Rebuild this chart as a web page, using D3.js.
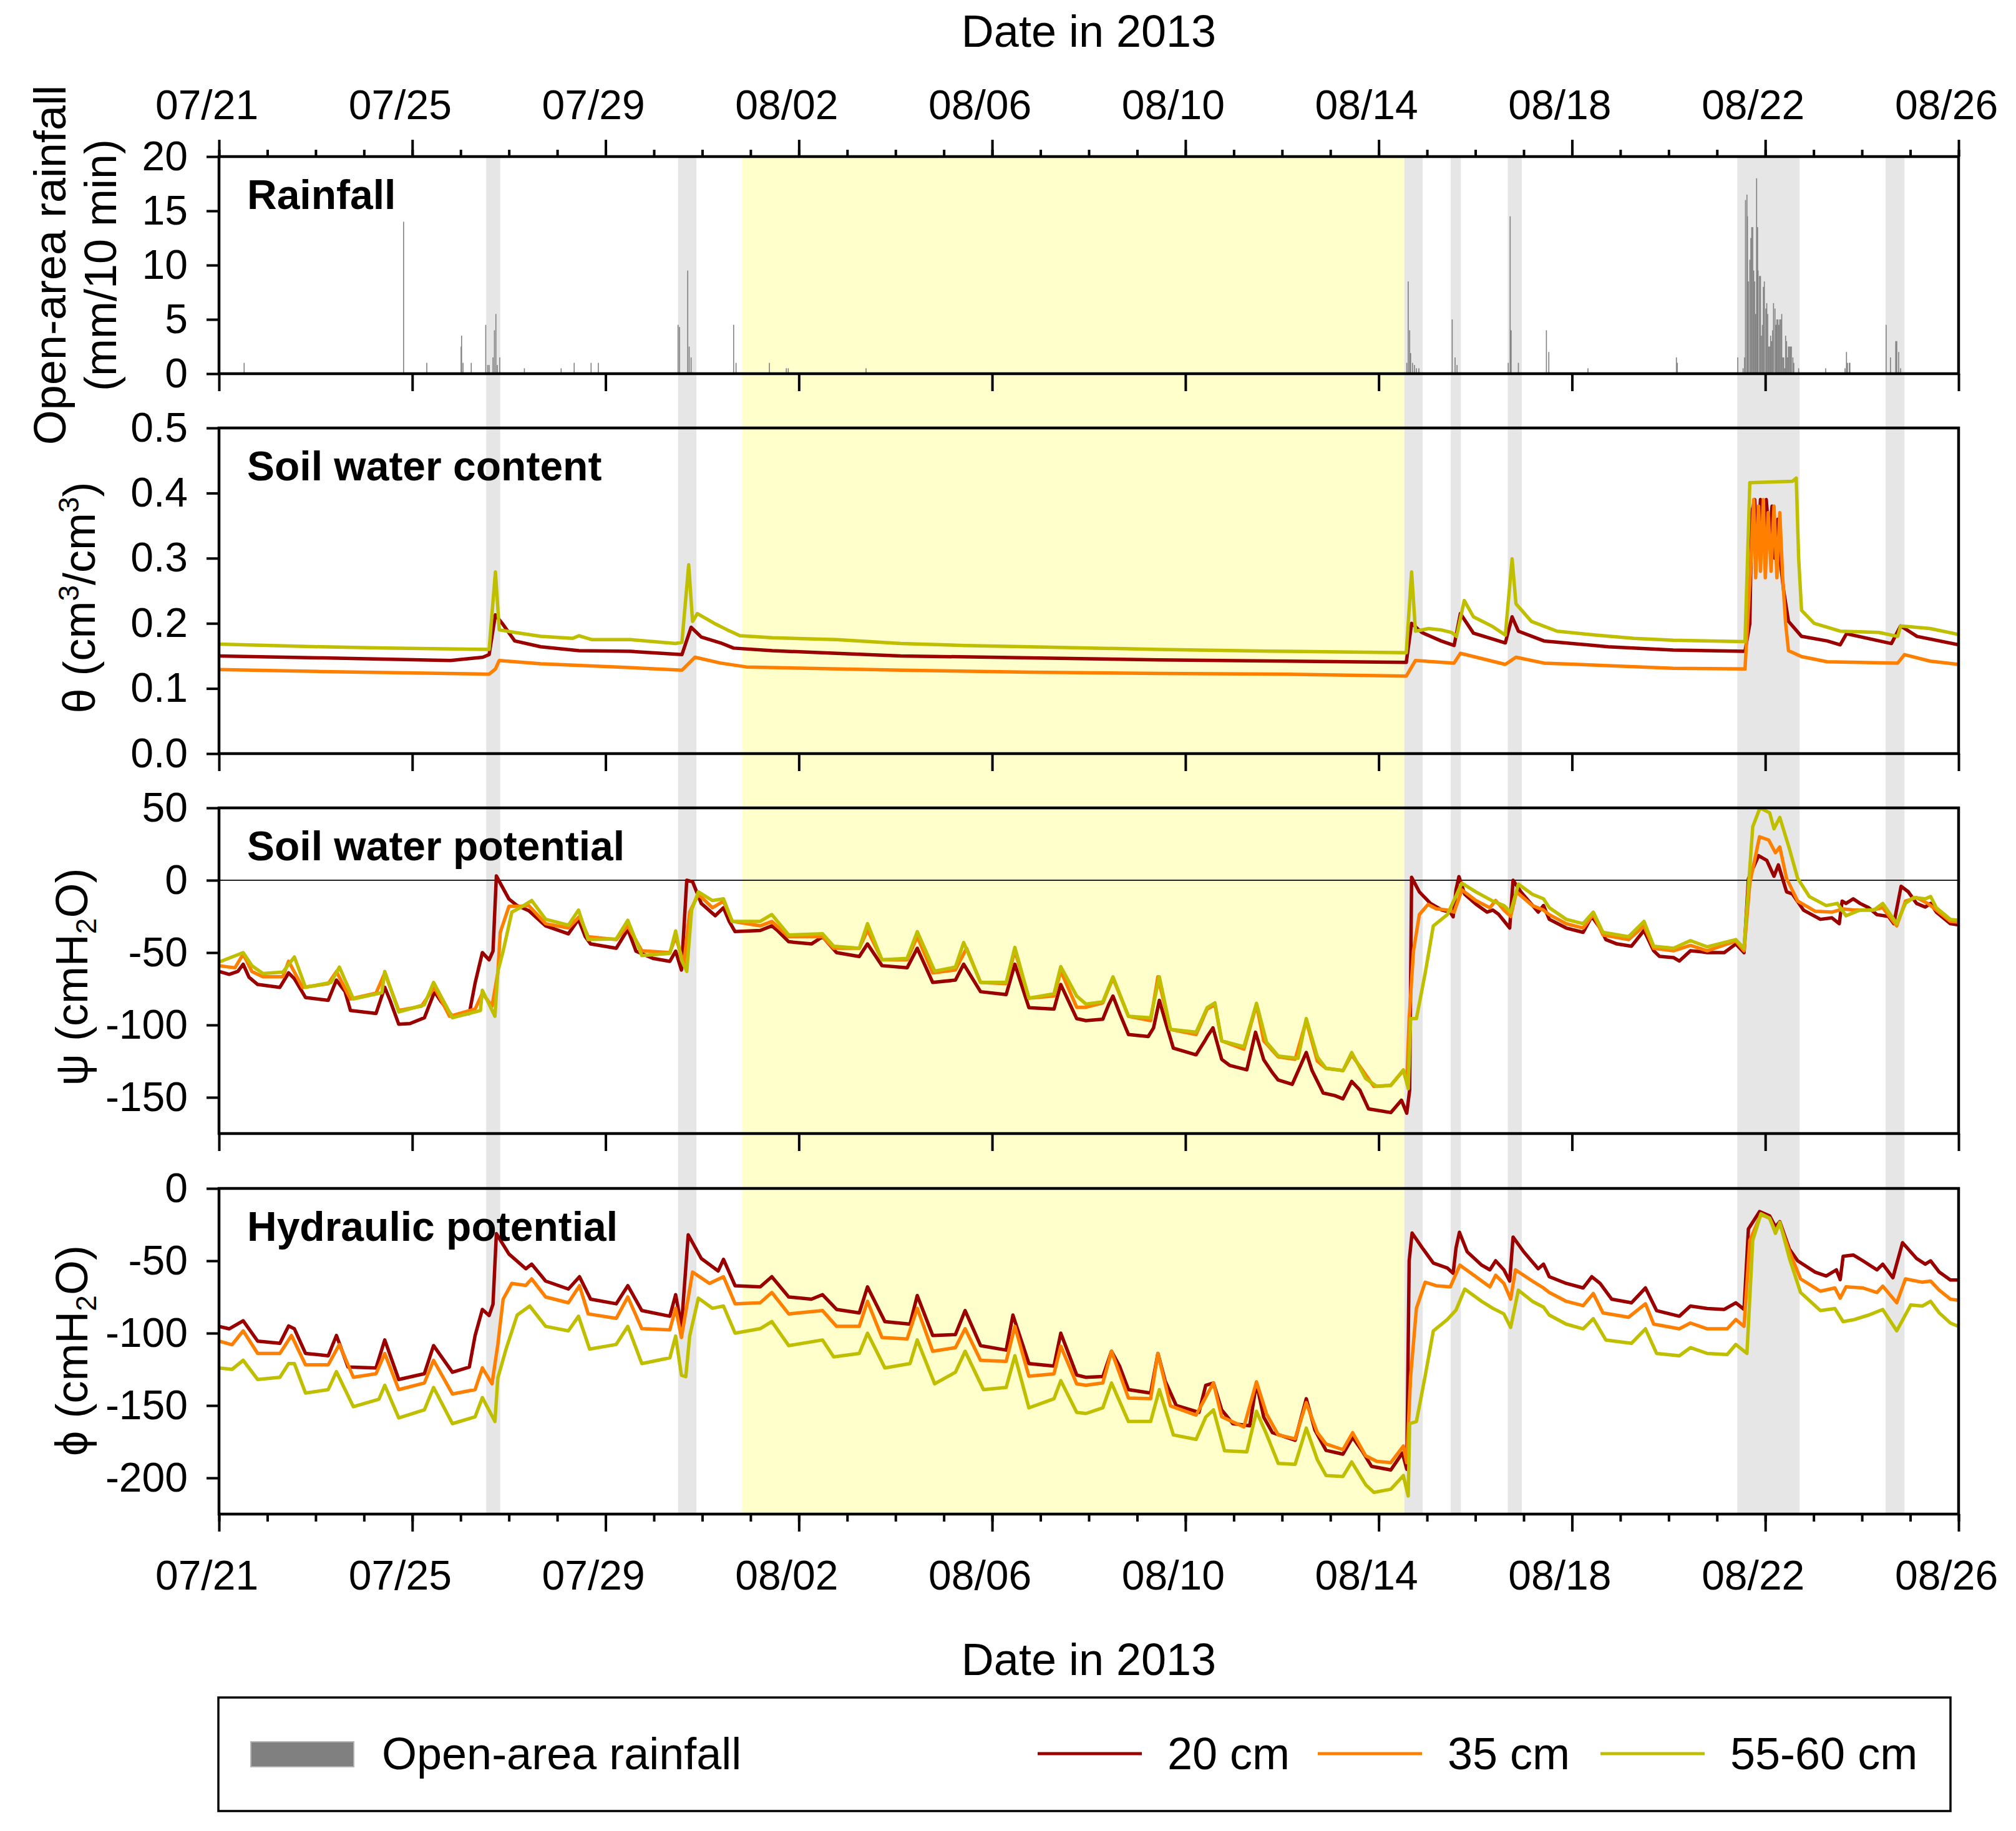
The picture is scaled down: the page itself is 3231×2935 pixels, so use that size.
<!DOCTYPE html>
<html>
<head>
<meta charset="utf-8">
<script src="https://cdn.jsdelivr.net/npm/d3@7"></script>
<style>
body { margin: 0; background: #fff; }
text { font-family: "Liberation Sans", Arial, sans-serif; }
</style>
</head>
<body>
<div id="chart"></div>
<script>
// all times are days since 2013-07-21 00:00

// open-area rainfall (mm/10 min)
var rainTime = [0.52, 3.82, 4.30, 5.01, 5.02, 5.05, 5.22, 5.52, 5.56, 5.59, 5.67, 5.70, 5.73, 5.76, 5.81,
  6.32, 7.08, 7.35, 7.70, 7.85, 9.50, 9.53, 9.70, 9.73, 9.77, 10.65, 10.70, 11.39, 11.74, 11.78, 13.39,
  24.58, 24.61, 24.64, 24.66, 24.70, 24.74, 24.78, 24.83, 25.52, 25.58, 25.62, 26.68, 26.72, 26.74, 26.89,
  27.47, 27.52, 28.33, 30.16, 30.18,
  31.43, 31.54, 31.57, 31.59, 31.62, 31.63, 31.65, 31.68, 31.70, 31.72, 31.74, 31.76, 31.78, 31.80, 31.82,
  31.84, 31.85, 31.88, 31.90, 31.92, 31.94, 31.96, 31.98, 32.01, 32.03, 32.05, 32.07, 32.09, 32.11, 32.13,
  32.15, 32.17, 32.20, 32.22, 32.24, 32.26, 32.28, 32.30, 32.32, 32.34, 32.36, 32.38, 32.40, 32.42, 32.44,
  32.46, 32.48, 32.50, 32.52, 32.54, 32.57, 32.59, 32.69, 33.25, 33.65, 33.68, 33.70, 33.74, 33.75,
  34.50, 34.59, 34.70, 34.72, 34.76, 34.80];
var rainMm = [1.0, 14.0, 1.0, 2.5, 3.5, 1.0, 1.0, 4.5, 0.8, 0.8, 1.5, 4.0, 5.5, 0.8, 1.5,
  0.5, 0.5, 1.0, 1.0, 1.0, 4.5, 4.3, 9.5, 2.5, 1.5, 4.5, 1.0, 1.0, 0.5, 0.5, 0.5,
  1.0, 8.5, 4.0, 1.9, 1.0, 0.8, 0.5, 0.5, 5.0, 1.5, 0.8, 1.0, 14.5, 4.0, 1.0,
  4.0, 2.0, 0.5, 1.5, 1.0,
  1.5, 0.5, 1.5, 16.0, 16.5, 14.5, 8.5, 10.5, 12.5, 13.5, 13.5, 9.5, 8.5, 5.5, 18.0,
  13.5, 9.5, 9.0, 9.0, 3.5, 4.5, 8.0, 8.5, 6.0, 6.5, 5.5, 2.5, 2.5, 3.5, 3.0,
  4.0, 6.5, 6.0, 4.5, 5.0, 5.0, 4.5, 5.0, 5.0, 5.5, 1.5, 1.5, 0.5, 3.5, 3.0,
  1.5, 2.5, 2.5, 2.5, 2.5, 1.5, 1.0, 0.5, 0.5, 0.5, 2.0, 1.0, 1.0, 1.0,
  4.5, 1.5, 3.0, 3.0, 2.0, 0.5];

// rain events (grey) and the dry spell (yellow), [start, end]
var rainEvents = [[5.53, 5.82], [9.50, 9.88], [24.53, 24.91], [25.49, 25.70], [26.67, 26.96], [31.42, 32.71], [34.49, 34.88]];
var drySpell = [10.83, 24.53];

var depths = ["20 cm", "35 cm", "55-60 cm"];
var depthColors = ["#9a0000", "#ff8000", "#bfbf00"];

// soil water content (cm3/cm3)
var theta20 = [[0,0.150],[2.13,0.147],[4.79,0.143],[5.46,0.148],[5.59,0.152],[5.72,0.213],[5.86,0.2],[6.12,0.173],[6.66,0.164],[7.45,0.158],[8.52,0.157],[9.58,0.152],[9.77,0.194],[9.98,0.179],[10.38,0.17],[10.65,0.162],[11.45,0.158],[12.78,0.154],[14.11,0.150],[16.77,0.147],[19.44,0.144],[22.10,0.142],[24.57,0.140],[24.68,0.2],[24.89,0.186],[25.29,0.173],[25.56,0.166],[25.69,0.215],[25.96,0.185],[26.62,0.17],[26.76,0.21],[26.89,0.188],[27.42,0.173],[28.75,0.164],[30.09,0.159],[31.58,0.157],[31.68,0.20],[31.72,0.37],[31.78,0.39],[31.84,0.31],[31.90,0.39],[31.96,0.32],[32.02,0.39],[32.08,0.33],[32.14,0.38],[32.20,0.30],[32.26,0.36],[32.32,0.29],[32.38,0.25],[32.48,0.203],[32.75,0.18],[33.28,0.173],[33.55,0.167],[33.68,0.184],[34.61,0.169],[34.80,0.196],[35.14,0.18],[36.00,0.167]];
var theta35 = [[0,0.129],[2.13,0.126],[5.59,0.122],[5.72,0.13],[5.80,0.143],[6.66,0.138],[8.25,0.133],[9.58,0.128],[9.85,0.148],[10.38,0.139],[10.92,0.133],[14.11,0.128],[16.77,0.125],[19.44,0.123],[22.10,0.122],[24.57,0.119],[24.76,0.143],[25.56,0.139],[25.69,0.154],[26.62,0.137],[26.84,0.148],[27.42,0.139],[30.09,0.131],[31.58,0.13],[31.70,0.29],[31.76,0.39],[31.80,0.27],[31.86,0.38],[31.90,0.28],[31.96,0.39],[32.00,0.27],[32.06,0.37],[32.12,0.28],[32.18,0.38],[32.24,0.27],[32.30,0.37],[32.36,0.27],[32.42,0.20],[32.48,0.158],[32.75,0.149],[33.28,0.141],[34.74,0.139],[34.88,0.152],[35.41,0.142],[36.00,0.137]];
var theta60 = [[0,0.168],[2.13,0.164],[3.46,0.162],[5.59,0.160],[5.72,0.279],[5.80,0.19],[6.12,0.186],[6.66,0.18],[7.32,0.177],[7.45,0.181],[7.72,0.175],[8.52,0.175],[9.45,0.169],[9.58,0.171],[9.72,0.29],[9.80,0.203],[9.90,0.215],[10.25,0.2],[10.52,0.19],[10.78,0.181],[11.45,0.178],[12.78,0.175],[14.11,0.169],[15.44,0.166],[16.77,0.164],[19.44,0.160],[22.10,0.157],[24.57,0.155],[24.68,0.279],[24.76,0.188],[25.03,0.192],[25.29,0.19],[25.51,0.186],[25.61,0.18],[25.77,0.235],[25.96,0.21],[26.36,0.195],[26.62,0.182],[26.76,0.299],[26.84,0.23],[27.16,0.203],[27.69,0.188],[28.49,0.182],[29.28,0.177],[30.09,0.174],[31.58,0.172],[31.68,0.416],[32.56,0.418],[32.64,0.423],[32.69,0.30],[32.75,0.22],[33.01,0.2],[33.55,0.188],[34.35,0.186],[34.74,0.18],[34.80,0.196],[35.41,0.192],[36.00,0.183]];

// soil water potential (cmH2O)
var psi20 = [[0.00,-63],[0.21,-65],[0.39,-63],[0.50,-58],[0.62,-67],[0.80,-72],[1.26,-74],[1.44,-64],[1.56,-68],[1.79,-81],[2.26,-83],[2.43,-69],[2.61,-77],[2.72,-90],[3.25,-92],[3.43,-74],[3.54,-83],[3.72,-99.5],[3.95,-99],[4.25,-95],[4.46,-77],[4.60,-84],[4.83,-94],[5.18,-92],[5.30,-71],[5.45,-50],[5.59,-55],[5.67,-49],[5.74,3],[5.82,-2],[6.00,-13],[6.17,-17.5],[6.41,-21],[6.76,-31.5],[7.23,-37],[7.44,-27],[7.58,-39],[7.69,-44],[8.22,-47],[8.46,-34],[8.63,-49],[8.98,-54],[9.33,-56],[9.45,-49],[9.57,-62],[9.68,0],[9.80,-1],[9.98,-16],[10.27,-24.5],[10.44,-19],[10.56,-28.5],[10.68,-35.5],[11.20,-34.7],[11.44,-31.5],[11.55,-34.5],[11.79,-42.5],[12.26,-44],[12.49,-39],[12.78,-50],[13.25,-52.7],[13.42,-44],[13.72,-59],[14.24,-60.5],[14.45,-47],[14.77,-70.6],[15.24,-69],[15.41,-58],[15.76,-77],[16.29,-79],[16.47,-58],[16.76,-88],[17.28,-89],[17.42,-72],[17.75,-95.6],[17.94,-97],[18.29,-96],[18.41,-86],[18.50,-80],[18.64,-92],[18.82,-106.6],[19.23,-108],[19.34,-102],[19.46,-83],[19.58,-97],[19.75,-116],[20.22,-120.6],[20.40,-111],[20.45,-108],[20.57,-102],[20.75,-123.75],[20.92,-128],[21.27,-131],[21.45,-105],[21.62,-124],[21.80,-133],[21.92,-138],[22.21,-141],[22.50,-119],[22.62,-131.5],[22.85,-147],[23.09,-148.75],[23.26,-151],[23.44,-139],[23.61,-145],[23.79,-158],[24.25,-160.5],[24.47,-152],[24.58,-161],[24.64,-145],[24.68,2],[24.84,-8],[25.07,-16],[25.31,-20.6],[25.48,-22],[25.54,-25.3],[25.60,-6.5],[25.66,2.5],[25.78,-9.7],[26.01,-16.5],[26.24,-22],[26.36,-20.6],[26.48,-23.5],[26.59,-28],[26.71,-33],[26.78,0],[26.94,-8],[27.30,-22],[27.41,-17.5],[27.53,-27],[27.88,-33],[28.23,-36],[28.41,-25],[28.58,-33],[28.70,-41],[28.93,-44],[29.23,-45.6],[29.49,-34.7],[29.69,-48.75],[29.81,-52.6],[30.10,-53.4],[30.22,-55.8],[30.45,-48.75],[30.69,-49.5],[30.80,-50],[31.15,-50],[31.39,-44],[31.56,-50],[31.65,1],[31.86,17],[32.03,13.75],[32.18,2.8],[32.27,10.6],[32.44,-8],[32.56,-9.5],[32.79,-20.6],[33.14,-27],[33.38,-26],[33.53,-30],[33.59,-14.4],[33.67,-16],[33.82,-12.8],[33.96,-16],[34.14,-19],[34.31,-23.75],[34.55,-25],[34.66,-30],[34.81,-4.2],[34.96,-8],[35.13,-16],[35.31,-18.5],[35.42,-16],[35.54,-22],[35.83,-30],[36.00,-30.8]];
var psi35 = [[0.00,-59],[0.33,-60.5],[0.50,-51],[0.68,-63],[0.91,-66.7],[1.32,-66.7],[1.44,-56],[1.73,-74],[2.26,-71.5],[2.43,-63],[2.72,-82],[3.25,-78],[3.43,-64],[3.72,-90],[4.19,-87],[4.46,-74],[4.77,-94],[5.30,-89],[5.45,-78],[5.65,-87],[5.77,-64],[5.82,-36],[6.00,-18],[6.23,-18],[6.41,-17.5],[6.76,-30],[7.23,-33],[7.46,-25],[7.64,-39],[8.22,-41],[8.46,-31.5],[8.75,-48.7],[9.33,-50],[9.45,-39],[9.62,-58],[9.74,-22],[9.92,-9.7],[10.21,-19],[10.44,-14.5],[10.62,-28.4],[11.20,-31.5],[11.44,-28.5],[11.79,-39],[12.49,-39],[12.72,-47],[13.25,-47],[13.42,-34.5],[13.72,-55],[14.24,-55],[14.45,-39],[14.77,-64],[15.24,-62],[15.47,-47],[15.76,-70.6],[16.29,-71.4],[16.47,-48.7],[16.76,-81.5],[17.28,-80],[17.42,-62.8],[17.75,-87.8],[17.94,-87.8],[18.29,-84.7],[18.50,-67.5],[18.82,-94],[19.28,-97],[19.43,-66.7],[19.69,-103],[20.22,-106.6],[20.45,-89],[20.61,-86],[20.75,-111],[21.21,-116.7],[21.47,-86],[21.62,-111],[21.92,-122],[22.27,-123.75],[22.50,-97],[22.73,-125],[22.91,-130],[23.26,-131.5],[23.44,-120.6],[23.67,-131.5],[23.90,-142.5],[24.25,-141.7],[24.51,-131.5],[24.58,-139],[24.63,-95],[24.72,-48.75],[24.84,-23.75],[25.02,-16.7],[25.19,-19.7],[25.42,-20.6],[25.56,-22],[25.72,-6.6],[26.01,-14],[26.30,-19],[26.42,-14],[26.59,-20.6],[26.73,-25],[26.85,-8],[27.18,-17.5],[27.41,-20.6],[27.53,-23.75],[27.88,-30],[28.23,-33],[28.44,-23.5],[28.64,-37.8],[29.17,-41],[29.49,-31.5],[29.69,-47],[30.10,-48.75],[30.45,-45],[30.80,-48.75],[31.39,-42],[31.56,-48.75],[31.68,-2],[31.88,30],[32.07,27.8],[32.21,19],[32.30,23],[32.44,1.25],[32.67,-14.4],[33.03,-21.4],[33.38,-22],[33.61,-19.8],[33.84,-20.6],[34.20,-20.6],[34.43,-19],[34.72,-31.5],[34.90,-14.4],[35.13,-12],[35.36,-16],[35.54,-20.6],[35.83,-28.4],[36.00,-29]];
var psi60 = [[0.00,-56.6],[0.50,-50],[0.68,-59],[0.91,-64.4],[1.32,-63.5],[1.56,-53],[1.79,-74],[2.32,-70.6],[2.49,-60],[2.78,-82],[3.37,-77.7],[3.43,-63],[3.72,-91],[4.25,-86],[4.44,-70.6],[4.83,-95],[5.41,-90],[5.45,-76],[5.71,-94],[5.77,-63],[5.88,-49],[6.06,-22],[6.23,-19],[6.47,-14],[6.76,-27],[7.23,-31],[7.44,-20.6],[7.64,-41],[8.22,-40.5],[8.46,-27.7],[8.75,-52],[9.33,-50.5],[9.45,-35],[9.57,-55],[9.68,-63],[9.78,-20.6],[9.92,-8],[10.21,-14],[10.44,-12.8],[10.62,-28.4],[11.20,-28.4],[11.44,-23.7],[11.79,-37.8],[12.49,-37],[12.72,-45.6],[13.25,-47],[13.42,-30],[13.72,-55],[14.24,-54],[14.45,-35.5],[14.81,-62.8],[15.24,-60],[15.41,-43],[15.76,-70.6],[16.29,-70.6],[16.47,-46.4],[16.76,-81.5],[17.28,-78.4],[17.42,-59.7],[17.75,-80],[17.94,-85.5],[18.29,-84],[18.50,-66.7],[18.82,-94],[19.28,-95],[19.46,-66.7],[19.69,-103],[20.22,-105],[20.45,-88],[20.61,-84.7],[20.75,-111],[21.21,-115],[21.47,-85],[21.68,-112],[21.92,-121.4],[22.33,-123],[22.50,-95.6],[22.73,-122],[22.91,-130],[23.26,-131.5],[23.44,-119],[23.73,-137],[23.96,-142.5],[24.25,-141.7],[24.51,-131],[24.61,-144],[24.66,-95.6],[24.78,-95.6],[24.96,-64.4],[25.13,-31.5],[25.42,-23.75],[25.72,-2],[26.01,-8],[26.36,-14.4],[26.59,-17.5],[26.73,-22],[26.89,-2.7],[27.18,-9.7],[27.41,-12.8],[27.53,-19],[27.88,-27],[28.23,-30],[28.44,-22],[28.64,-36],[29.17,-39],[29.49,-28.4],[29.69,-45.6],[30.10,-47],[30.45,-41.7],[30.80,-46],[31.39,-41],[31.56,-47],[31.74,37],[31.89,50],[32.09,46.6],[32.18,35.6],[32.30,43.4],[32.50,21.6],[32.67,1.25],[32.91,-11.25],[33.26,-17.5],[33.49,-16],[33.67,-24.5],[33.96,-20.6],[34.25,-20.6],[34.43,-16],[34.72,-30],[34.90,-16],[35.07,-12],[35.31,-12.8],[35.42,-11.25],[35.54,-19],[35.83,-27],[36.00,-27.7]];

// hydraulic potential (cmH2O)
var phi20 = [[0.00,-95.3],[0.21,-97],[0.50,-91.4],[0.80,-105.5],[1.26,-107],[1.44,-95],[1.56,-97],[1.79,-114],[2.26,-115.6],[2.43,-101.6],[2.67,-123.4],[3.25,-124],[3.43,-104.7],[3.72,-132],[4.25,-128],[4.44,-108.6],[4.83,-127],[5.18,-123.4],[5.30,-101.6],[5.45,-83.6],[5.59,-87.8],[5.67,-80],[5.74,-31.25],[6.00,-45.3],[6.35,-55.5],[6.47,-52.3],[6.76,-64],[7.23,-69.5],[7.46,-61],[7.69,-76.5],[8.22,-79.7],[8.46,-67.2],[8.75,-84.4],[9.33,-88.3],[9.45,-73.4],[9.57,-95.3],[9.71,-32],[9.98,-48.4],[10.33,-57],[10.44,-49],[10.68,-67.2],[11.20,-68],[11.44,-61],[11.79,-75],[12.26,-76.5],[12.49,-73.4],[12.78,-83.6],[13.25,-86],[13.42,-68],[13.78,-92],[14.30,-93.75],[14.45,-74],[14.77,-101.6],[15.24,-101],[15.44,-84.4],[15.76,-108.6],[16.29,-111.7],[16.43,-87.5],[16.76,-121],[17.28,-122.7],[17.42,-100],[17.75,-128.9],[17.94,-130.5],[18.29,-130],[18.47,-112.5],[18.64,-123],[18.82,-139],[19.28,-141.4],[19.43,-114],[19.58,-133],[19.81,-150],[20.28,-154.7],[20.42,-136],[20.58,-134.4],[20.75,-153],[20.98,-162.5],[21.33,-164],[21.47,-134.4],[21.62,-158],[21.80,-168.75],[22.27,-174],[22.50,-145.3],[22.68,-167],[22.91,-181],[23.26,-183.6],[23.46,-171.9],[23.67,-182],[23.85,-192],[24.25,-194.5],[24.49,-182.8],[24.58,-194],[24.63,-50],[24.69,-30.8],[24.90,-41],[25.13,-51.6],[25.42,-55],[25.54,-58.6],[25.60,-41],[25.67,-30.3],[25.83,-43.75],[26.13,-53],[26.30,-56.25],[26.42,-50],[26.59,-56.25],[26.71,-64],[26.78,-33.6],[27.00,-43.75],[27.30,-55.5],[27.41,-52.3],[27.53,-61],[27.88,-65.6],[28.23,-68.75],[28.41,-61],[28.58,-65.6],[28.82,-76.5],[29.23,-79],[29.52,-68.75],[29.75,-84.4],[30.22,-88.3],[30.45,-81.25],[30.80,-83],[31.15,-83.6],[31.39,-79],[31.56,-83.6],[31.65,-28],[31.88,-16],[32.09,-19],[32.21,-26.5],[32.30,-23],[32.50,-42],[32.67,-50],[33.03,-57.8],[33.26,-60.5],[33.47,-56.25],[33.55,-63],[33.61,-46.9],[33.82,-46],[34.02,-50],[34.31,-56.25],[34.43,-52.3],[34.64,-61.7],[34.84,-37.5],[35.13,-48.4],[35.31,-52.3],[35.42,-50],[35.60,-57.8],[35.83,-63.3],[36.00,-63.3]];
var phi35 = [[0.00,-105.5],[0.27,-108],[0.50,-98.4],[0.80,-114],[1.26,-114],[1.50,-101.6],[1.79,-121.9],[2.26,-121.9],[2.49,-107.8],[2.78,-130.5],[3.25,-128],[3.43,-114],[3.72,-139],[4.25,-134.4],[4.44,-118.75],[4.83,-142],[5.30,-139],[5.45,-124],[5.65,-135],[5.77,-107.8],[5.88,-76.5],[6.06,-65.6],[6.35,-67],[6.47,-62.5],[6.76,-75],[7.23,-79],[7.46,-67.2],[7.64,-86.7],[8.22,-89.8],[8.46,-75],[8.75,-96.9],[9.33,-97.7],[9.45,-82.8],[9.57,-103],[9.80,-57.8],[10.15,-65.6],[10.44,-61],[10.68,-79.7],[11.20,-79],[11.44,-71.9],[11.79,-86.7],[12.49,-84.4],[12.78,-95.3],[13.25,-95.3],[13.42,-78],[13.72,-103],[14.24,-104],[14.45,-82.8],[14.77,-112.5],[15.24,-110],[15.44,-96.9],[15.76,-118.75],[16.29,-119.5],[16.47,-95.3],[16.76,-129.7],[17.28,-128.1],[17.42,-109],[17.75,-135],[17.94,-136],[18.29,-134.4],[18.47,-112.5],[18.82,-144.8],[19.28,-145.3],[19.43,-114],[19.69,-150.3],[20.22,-156.6],[20.58,-134.4],[20.75,-157.8],[21.21,-164.8],[21.47,-133.6],[21.68,-156],[21.92,-170.3],[22.27,-173],[22.50,-148],[22.73,-168.75],[22.91,-176.6],[23.26,-180.5],[23.46,-168.75],[23.73,-184.7],[23.96,-188.6],[24.25,-189.4],[24.51,-178],[24.58,-189.4],[24.66,-130],[24.78,-82.8],[24.96,-64.8],[25.19,-67.2],[25.48,-68],[25.68,-53],[26.01,-61],[26.30,-68],[26.42,-60],[26.59,-65.6],[26.73,-76.5],[26.83,-56.25],[27.18,-64],[27.41,-68.75],[27.53,-71.9],[27.88,-78],[28.23,-81],[28.44,-72.6],[28.64,-86],[29.17,-89],[29.52,-79.7],[29.69,-93.75],[30.22,-97],[30.45,-93],[30.80,-97],[31.21,-97],[31.39,-90.6],[31.56,-95.3],[31.68,-35.9],[31.91,-18],[32.09,-20.6],[32.21,-29.7],[32.30,-24.2],[32.50,-43.75],[32.73,-62.5],[33.14,-71],[33.44,-68.75],[33.55,-75.8],[33.67,-68],[34.02,-68.75],[34.31,-71.9],[34.43,-67.5],[34.72,-79],[34.90,-62.5],[35.25,-64.8],[35.42,-64],[35.60,-70.3],[35.83,-76.5],[36.00,-77.3]];
var phi60 = [[0.00,-124],[0.27,-125],[0.50,-118.75],[0.80,-132],[1.26,-130.5],[1.44,-121],[1.56,-121],[1.79,-141.4],[2.26,-139],[2.43,-126.6],[2.78,-150.8],[3.31,-145.6],[3.43,-136],[3.72,-158.6],[4.25,-153],[4.44,-137.5],[4.83,-162.5],[5.30,-157.8],[5.45,-144.5],[5.71,-161],[5.77,-131],[5.94,-111],[6.17,-87.5],[6.43,-81.25],[6.76,-95.3],[7.23,-98.4],[7.44,-88.3],[7.67,-111],[8.22,-107.8],[8.46,-95.3],[8.75,-121],[9.33,-117],[9.45,-102],[9.57,-129],[9.66,-130],[9.74,-102],[9.92,-75.8],[10.21,-82.8],[10.44,-81.25],[10.68,-100],[11.20,-96.9],[11.44,-92],[11.79,-108.6],[12.49,-104.7],[12.72,-116.4],[13.25,-114],[13.42,-100],[13.78,-124],[14.30,-121],[14.45,-104.7],[14.81,-135],[15.24,-127],[15.44,-112.5],[15.82,-139],[16.29,-137.5],[16.47,-115.6],[16.76,-151.6],[17.28,-145.3],[17.42,-132.8],[17.75,-154.7],[17.94,-155.5],[18.29,-151.6],[18.47,-134.4],[18.82,-161],[19.28,-161],[19.46,-139],[19.75,-170.3],[20.22,-173.4],[20.42,-158],[20.58,-153],[20.81,-181.25],[21.27,-182],[21.47,-154],[21.68,-170],[21.92,-190],[22.27,-190.6],[22.50,-165.6],[22.73,-187.5],[22.91,-198.4],[23.26,-199],[23.44,-189],[23.73,-204.7],[23.90,-210],[24.25,-207.8],[24.51,-198.4],[24.61,-212.5],[24.64,-162.5],[24.78,-161],[24.96,-129.7],[25.13,-98.4],[25.42,-90.6],[25.60,-84],[25.78,-69.5],[26.13,-78],[26.36,-82.8],[26.59,-86.7],[26.73,-96],[26.89,-70.3],[27.18,-78],[27.41,-82],[27.53,-87.5],[27.88,-93.75],[28.23,-97],[28.44,-90],[28.70,-104.7],[29.23,-107],[29.52,-97],[29.75,-114],[30.22,-115.6],[30.45,-110],[30.80,-114],[31.21,-114.8],[31.39,-107.8],[31.62,-114],[31.74,-36],[31.91,-17.5],[32.09,-20.6],[32.21,-31],[32.30,-23.4],[32.50,-48.4],[32.73,-71.9],[33.14,-84.4],[33.44,-83],[33.61,-92],[33.84,-90.6],[34.14,-87.5],[34.43,-83.6],[34.72,-98.4],[35.01,-80.5],[35.25,-81.25],[35.42,-78],[35.60,-86],[35.83,-93],[36.00,-95.3]];

var majorDays = d3.range(0, 37, 4);
var minorDays = d3.range(0, 37, 1);

var svg_width = 3231;
var svg_height = 2935;
var plot_left = 351;
var plot_right = 3139;
var font_tick = 66;
var font_title = 72;

var start = Date.UTC(2013, 6, 21);
function toDate(t) { return new Date(start + t * 864e5); }
function plain(d) { return String(d); }

var svg = d3.select("#chart")
  .append("svg")
  .attr("width", svg_width)
  .attr("height", svg_height)
  .style("background", "#fff");

var x = d3.scaleUtc()
  .domain([toDate(0), toDate(36)])
  .range([plot_left, plot_right]);

var panels = [
  {name: "rain",  title: "Rainfall",             top: 251,  bottom: 599,  domain: [0, 20],     ticks: [0, 5, 10, 15, 20],          fmt: plain},
  {name: "theta", title: "Soil water content",   top: 686,  bottom: 1208, domain: [0, 0.5],    ticks: [0, 0.1, 0.2, 0.3, 0.4, 0.5], fmt: d3.format(".1f")},
  {name: "psi",   title: "Soil water potential", top: 1295, bottom: 1817, domain: [-175, 50],  ticks: [-150, -100, -50, 0, 50],    fmt: plain},
  {name: "phi",   title: "Hydraulic potential",  top: 1905, bottom: 2427, domain: [-225, 0],   ticks: [-200, -150, -100, -50, 0],  fmt: plain}
];
panels.forEach(function(p) {
  p.y = d3.scaleLinear().domain(p.domain).range([p.bottom, p.top]);
});
var P = {};
panels.forEach(function(p) { P[p.name] = p; });

// background bands run through all panels
var band_top = P.rain.top, band_bottom = P.phi.bottom;
svg.append("rect")
  .attr("x", x(toDate(drySpell[0])))
  .attr("y", band_top)
  .attr("width", x(toDate(drySpell[1])) - x(toDate(drySpell[0])))
  .attr("height", band_bottom - band_top)
  .attr("fill", "#ffffcc");
svg.selectAll(".rain-event")
  .data(rainEvents)
  .enter()
  .append("rect")
  .attr("class", "rain-event")
  .attr("x", function(d) { return x(toDate(d[0])); })
  .attr("y", band_top)
  .attr("width", function(d) { return x(toDate(d[1])) - x(toDate(d[0])); })
  .attr("height", band_bottom - band_top)
  .attr("fill", "#e6e6e6");

// clip paths per panel
var defs = svg.append("defs");
panels.forEach(function(p) {
  defs.append("clipPath").attr("id", "clip-" + p.name)
    .append("rect")
    .attr("x", plot_left).attr("y", p.top)
    .attr("width", plot_right - plot_left).attr("height", p.bottom - p.top);
});

// rainfall bars
var rain = rainTime.map(function(t, i) { return {t: t, v: rainMm[i]}; });
var barW = x(toDate(1 / 48)) - x(toDate(0));
svg.append("g")
  .selectAll("rect")
  .data(rain)
  .enter()
  .append("rect")
  .attr("x", function(d) { return x(toDate(d.t)) - barW / 2; })
  .attr("y", function(d) { return P.rain.y(d.v); })
  .attr("width", barW)
  .attr("height", function(d) { return P.rain.y(0) - P.rain.y(d.v); })
  .attr("fill", "#808080");

// zero line of soil water potential
svg.append("line")
  .attr("x1", plot_left).attr("x2", plot_right)
  .attr("y1", P.psi.y(0)).attr("y2", P.psi.y(0))
  .attr("stroke", "#222")
  .attr("stroke-width", 2);

// depth series
var seriesByPanel = {
  theta: [theta20, theta35, theta60],
  psi: [psi20, psi35, psi60],
  phi: [phi20, phi35, phi60]
};
["theta", "psi", "phi"].forEach(function(name) {
  var p = P[name];
  var line = d3.line()
    .x(function(d) { return x(toDate(d[0])); })
    .y(function(d) { return p.y(d[1]); });
  svg.append("g")
    .attr("clip-path", "url(#clip-" + name + ")")
    .selectAll("path")
    .data(seriesByPanel[name])
    .enter()
    .append("path")
    .attr("d", line)
    .attr("fill", "none")
    .attr("stroke", function(d, i) { return depthColors[i]; })
    .attr("stroke-width", 5.5)
    .attr("stroke-linejoin", "round");
});

// frames, y axes, titles
panels.forEach(function(p) {
  svg.append("rect")
    .attr("x", plot_left).attr("y", p.top)
    .attr("width", plot_right - plot_left).attr("height", p.bottom - p.top)
    .attr("fill", "none")
    .attr("stroke", "#000")
    .attr("stroke-width", 4.5);

  var ax = svg.append("g")
    .attr("transform", "translate(" + plot_left + ",0)")
    .call(d3.axisLeft(p.y).tickValues(p.ticks).tickFormat(p.fmt).tickSize(20).tickPadding(30).tickSizeOuter(0));
  ax.select(".domain").remove();
  ax.selectAll("line").attr("stroke-width", 4);
  ax.selectAll("text")
    .attr("font-size", font_tick)
    .attr("font-family", "Liberation Sans, Arial, sans-serif")
    .attr("fill", "#000");

  svg.append("text")
    .attr("x", 396)
    .attr("y", p.top + 84)
    .attr("font-size", 66)
    .attr("font-weight", "bold")
    .text(p.title);

  // major ticks under every panel
  if (p.name !== "phi") {
    var bx = svg.append("g")
      .attr("transform", "translate(0," + p.bottom + ")")
      .call(d3.axisBottom(x).tickValues(majorDays.map(toDate)).tickSize(28).tickFormat(""));
    bx.select(".domain").remove();
    bx.selectAll("line").attr("stroke-width", 4);
  }
});

// top date axis
var topMinor = svg.append("g")
  .attr("transform", "translate(0," + P.rain.top + ")")
  .call(d3.axisTop(x).tickValues(minorDays.map(toDate)).tickSize(11).tickFormat(""));
topMinor.select(".domain").remove();
topMinor.selectAll("line").attr("stroke-width", 4);

var topMajor = svg.append("g")
  .attr("transform", "translate(0," + P.rain.top + ")")
  .call(d3.axisTop(x).tickValues(majorDays.map(toDate)).tickSize(27).tickFormat(d3.utcFormat("%m/%d")));
topMajor.select(".domain").remove();
topMajor.selectAll("line").attr("stroke-width", 4);
topMajor.selectAll("text")
  .attr("x", -20)
  .attr("y", -60)
  .attr("dy", null)
  .attr("font-size", font_tick)
  .attr("font-family", "Liberation Sans, Arial, sans-serif")
  .attr("fill", "#000");

// bottom date axis
var botMinor = svg.append("g")
  .attr("transform", "translate(0," + P.phi.bottom + ")")
  .call(d3.axisBottom(x).tickValues(minorDays.map(toDate)).tickSize(12).tickFormat(""));
botMinor.select(".domain").remove();
botMinor.selectAll("line").attr("stroke-width", 4);

var botMajor = svg.append("g")
  .attr("transform", "translate(0," + P.phi.bottom + ")")
  .call(d3.axisBottom(x).tickValues(majorDays.map(toDate)).tickSize(28).tickFormat(d3.utcFormat("%m/%d")));
botMajor.select(".domain").remove();
botMajor.selectAll("line").attr("stroke-width", 4);
botMajor.selectAll("text")
  .attr("x", -20)
  .attr("y", 121)
  .attr("dy", null)
  .attr("font-size", font_tick)
  .attr("font-family", "Liberation Sans, Arial, sans-serif")
  .attr("fill", "#000");

// axis titles
var center_x = (plot_left + plot_right) / 2;
svg.append("text")
  .attr("x", center_x).attr("y", 75)
  .attr("text-anchor", "middle")
  .attr("font-size", font_title)
  .text("Date in 2013");
svg.append("text")
  .attr("x", center_x).attr("y", 2685)
  .attr("text-anchor", "middle")
  .attr("font-size", font_title)
  .text("Date in 2013");

function yTitle(bx, cy, parts) {
  var t = svg.append("text")
    .attr("transform", "translate(" + bx + "," + cy + ") rotate(-90)")
    .attr("text-anchor", "middle")
    .attr("font-size", font_title);
  parts.forEach(function(s) {
    var ts = t.append("tspan").text(s.text);
    if (s.sup) ts.attr("font-size", 46).attr("dy", -26);
    if (s.sub) ts.attr("font-size", 46).attr("dy", 14);
    if (s.back) ts.attr("dy", s.back);
  });
}
yTitle(105, 425, [{text: "Open-area rainfall"}]);
yTitle(186, 425, [{text: "(mm/10 min)"}]);
yTitle(152, 958, [{text: "θ (cm"}, {text: "3", sup: true}, {text: "/cm", back: 26}, {text: "3", sup: true}, {text: ")", back: 26}]);
yTitle(140, 1566, [{text: "ψ (cmH"}, {text: "2", sub: true}, {text: "O)", back: -14}]);
yTitle(140, 2165, [{text: "ϕ (cmH"}, {text: "2", sub: true}, {text: "O)", back: -14}]);

// legend
var lg = svg.append("g");
lg.append("rect")
  .attr("x", 350).attr("y", 2721)
  .attr("width", 3126 - 350).attr("height", 2903 - 2721)
  .attr("fill", "#fff")
  .attr("stroke", "#000")
  .attr("stroke-width", 3.5);
lg.append("rect")
  .attr("x", 402).attr("y", 2792)
  .attr("width", 165).attr("height", 40)
  .attr("fill", "#808080")
  .attr("stroke", "#b3b3b3")
  .attr("stroke-width", 2);
lg.append("text")
  .attr("x", 612).attr("y", 2836)
  .attr("font-size", font_title)
  .text("Open-area rainfall");
var legendX = [1663, 2112, 2565];
depths.forEach(function(label, i) {
  lg.append("line")
    .attr("x1", legendX[i]).attr("x2", legendX[i] + 167)
    .attr("y1", 2811).attr("y2", 2811)
    .attr("stroke", depthColors[i])
    .attr("stroke-width", 5);
  lg.append("text")
    .attr("x", legendX[i] + 208).attr("y", 2836)
    .attr("font-size", font_title)
    .text(label);
});
</script>
</body>
</html>
